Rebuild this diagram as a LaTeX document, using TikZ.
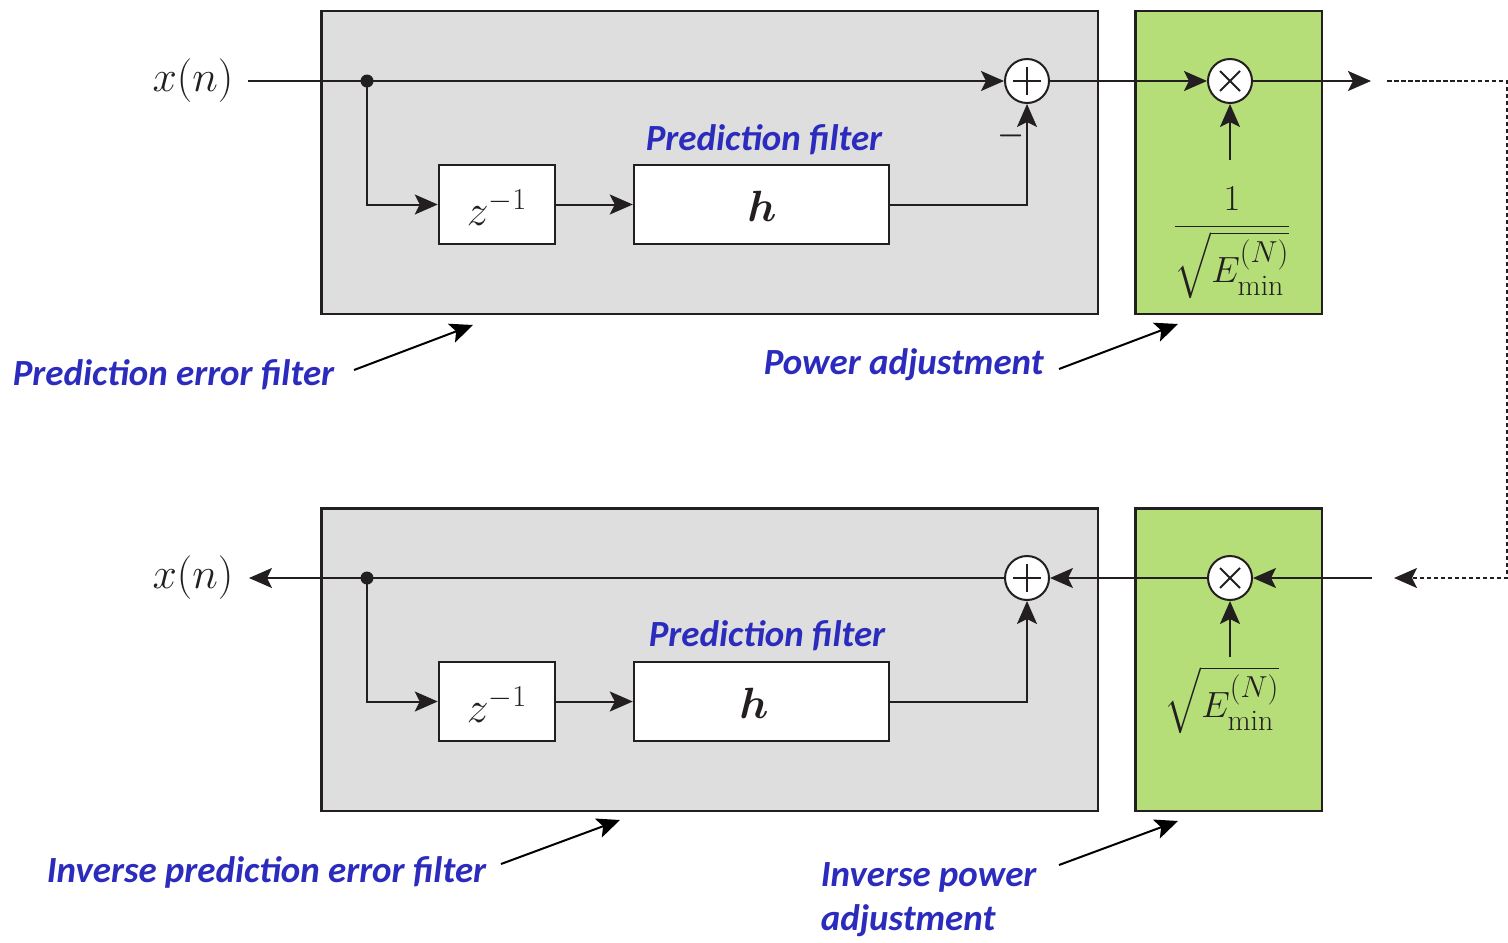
\documentclass[tikz,border=0pt]{standalone}
\usepackage{fontspec}
\usepackage{amsmath,bm}
\newfontfamily\lbl{Carlito}
\DeclareMathSizes{22}{22}{17}{13}
\usetikzlibrary{arrows.meta}
\definecolor{boxgray}{RGB}{222,222,222}
\definecolor{boxgreen}{RGB}{181,222,120}
\definecolor{lblblue}{RGB}{43,43,190}
\definecolor{ink}{RGB}{35,31,32}
\begin{document}
\begin{tikzpicture}[x=0.02cm,y=-0.02cm,
  line width=0.04cm, draw=ink,
  arr/.style={-{Stealth[length=0.46cm,width=0.4cm,inset=0.1cm]}},
  grayblk/.style={draw=ink,line width=0.05cm,fill=boxgray},
  greenblk/.style={draw=ink,line width=0.05cm,fill=boxgreen},
  wbox/.style={draw=ink,line width=0.05cm,fill=white,inner sep=0pt,anchor=center},
  opc/.style={circle,draw=ink,line width=0.04cm,fill=white,minimum size=0.88cm,inner sep=0pt},
  plusc/.style={opc,path picture={\draw[line width=0.04cm,ink] ([xshift=-0.28cm]path picture bounding box.center)--([xshift=0.28cm]path picture bounding box.center) ([yshift=-0.28cm]path picture bounding box.center)--([yshift=0.28cm]path picture bounding box.center);}},
  timesc/.style={opc,path picture={\draw[line width=0.04cm,ink] ([shift={(-0.2cm,-0.2cm)}]path picture bounding box.center)--([shift={(0.2cm,0.2cm)}]path picture bounding box.center) ([shift={(-0.2cm,0.2cm)}]path picture bounding box.center)--([shift={(0.2cm,-0.2cm)}]path picture bounding box.center);}},
  dotn/.style={circle,fill=ink,inner sep=0pt,minimum size=0.26cm},
  mathtxt/.style={font=\fontsize{24}{28}\selectfont,text=ink},
  gaintxt/.style={font=\fontsize{22}{26}\selectfont,text=ink},
  lbltxt/.style={font=\fontsize{21}{25}\selectfont\lbl\bfseries\itshape,text=lblblue},
  dotted line/.style={line width=0.045cm,dash pattern=on 0.09cm off 0.05cm}
]
\useasboundingbox[fill=white] (0,0) rectangle (1508,943);

% ---------- top row ----------
\node[grayblk,minimum width=15.54cm,minimum height=6.06cm,anchor=north west] (pef) at (320,10) {};
\node[greenblk,minimum width=3.74cm,minimum height=6.06cm,anchor=north west] (pa) at (1134,10) {};

\node[mathtxt] (xin) at (193,81) {$x(n)$};
\coordinate (xinr) at (248,81);
\node[dotn] (d1) at (367,81) {};
\node[wbox,minimum width=2.32cm,minimum height=1.58cm] (z1) at (497,204.5) {};
\node[mathtxt] at (497,208) {$z^{-1}$};
\node[wbox,minimum width=5.1cm,minimum height=1.58cm] (h1) at (761.5,204.5) {};
\node[mathtxt] at (762,206) {$\bm{h}$};
\node[plusc] (s1) at (1027,81) {};
\node[timesc] (m1) at (1230,81) {};
\coordinate (out1) at (1371,81);
\coordinate (g1) at (1230,160);
\node[gaintxt] (frac1) at (1232,243) {$\dfrac{1}{\sqrt{E_{\min}^{(N)}}}$};
\node[font=\fontsize{16}{18}\selectfont,text=ink] (minus) at (1011,136) {$\bm{-}$};
\node[lbltxt] at (764,140) {Prediction filter};

\draw[arr] (xinr) -- (s1);
\draw[arr] (d1.center) |- (z1);
\draw[arr] (z1) -- (h1);
\draw[arr] (h1) -| (s1);
\draw[arr] (s1) -- (m1);
\draw[arr] (m1) -- (out1);
\draw[arr] (g1) -- (m1);

% dotted loop
\coordinate (do1) at (1387,81);
\coordinate (dc1) at (1507,81);
\coordinate (dc2) at (1507,578);
\coordinate (do2) at (1394,578);
\draw[dotted line,-{Stealth[length=0.46cm,width=0.4cm,inset=0.1cm]}] (do1) -- (dc1) -- (dc2) -- (do2);

% ---------- bottom row ----------
\node[grayblk,minimum width=15.54cm,minimum height=6.06cm,anchor=north west] (ipef) at (320,507) {};
\node[greenblk,minimum width=3.74cm,minimum height=6.06cm,anchor=north west] (ipa) at (1134,507) {};

\node[mathtxt] (xout) at (193,578) {$x(n)$};
\coordinate (xoutr) at (249,578);
\node[dotn] (d2) at (367,578) {};
\node[wbox,minimum width=2.32cm,minimum height=1.58cm] (z2) at (497,701.5) {};
\node[mathtxt] at (497,705) {$z^{-1}$};
\node[wbox,minimum width=5.1cm,minimum height=1.58cm] (h2) at (761.5,701.5) {};
\node[mathtxt] at (754,703) {$\bm{h}$};
\node[plusc] (s2) at (1027,578) {};
\node[timesc] (m2) at (1230,578) {};
\coordinate (in2) at (1372,578);
\coordinate (g2) at (1230,657);
\node[gaintxt] (sq2) at (1222,700) {$\sqrt{E_{\min}^{(N)}}$};
\node[lbltxt] at (767,636) {Prediction filter};

\draw[arr] (in2) -- (m2);
\draw[arr] (m2) -- (s2);
\draw[arr] (s2) -- (xoutr);
\draw[arr] (d2.center) |- (z2);
\draw[arr] (z2) -- (h2);
\draw[arr] (h2) -| (s2);
\draw[arr] (g2) -- (m2);

% ---------- annotations ----------
\node[lbltxt,anchor=west] (l1) at (6,375) {Prediction error filter};
\coordinate (l1a) at (354,370); \coordinate (l1b) at (473,325);
\draw[arr,draw=black] (l1a) -- (l1b);

\node[lbltxt,anchor=west] (l2) at (757,365) {Power adjustment};
\coordinate (l2a) at (1059,369); \coordinate (l2b) at (1178,324);
\draw[arr,draw=black] (l2a) -- (l2b);

\node[lbltxt,anchor=west] (l3) at (40,872) {Inverse prediction error filter};
\coordinate (l3a) at (501,864); \coordinate (l3b) at (620,820);
\draw[arr,draw=black] (l3a) -- (l3b);

\node[lbltxt,anchor=north west,align=left] (l4) at (814,856) {Inverse power\\adjustment};
\coordinate (l4a) at (1059,865); \coordinate (l4b) at (1178,821);
\draw[arr,draw=black] (l4a) -- (l4b);
\end{tikzpicture}
\end{document}
